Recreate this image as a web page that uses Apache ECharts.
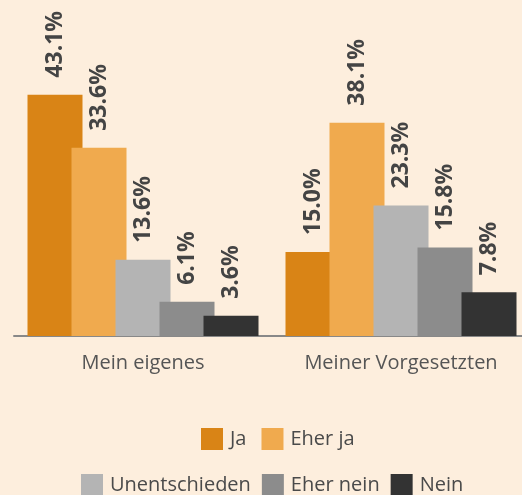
<!DOCTYPE html>
<html>
<head>
<meta charset="utf-8">
<script src="https://cdn.jsdelivr.net/npm/echarts@6/dist/echarts.min.js"></script>
<style>
  html, body { margin: 0; padding: 0; background: #fdeedd; }
  #chart { width: 522px; height: 495px; }
</style>
</head>
<body>
<div id="chart"></div>
<script>
var categories = ['Mein eigenes', 'Meiner Vorgesetzten'];
var seriesNames = ['Ja', 'Eher ja', 'Unentschieden', 'Eher nein', 'Nein'];
var jaValues = [43.1, 15.0];
var eherJaValues = [33.6, 38.1];
var unentschiedenValues = [13.6, 23.3];
var eherNeinValues = [6.1, 15.8];
var neinValues = [3.6, 7.8];

var colors = ['#d98416', '#f0aa4e', '#b4b4b4', '#8c8c8c', '#333333'];
var allValues = [jaValues, eherJaValues, unentschiedenValues, eherNeinValues, neinValues];

var myChart = echarts.init(document.getElementById('chart'));

var series = seriesNames.map(function (name, i) {
    return {
        name: name,
        type: 'bar',
        data: allValues[i],
        barWidth: 55,
        barGap: '-20%',
        itemStyle: {color: colors[i]},
        label: {
            show: true,
            position: 'top',
            rotate: 90,
            align: 'left',
            verticalAlign: 'middle',
            distance: 16,
            offset: [1, 0],
            formatter: function (p) { return p.value.toFixed(1) + '%'; },
            color: '#444',
            fontFamily: 'Open Sans',
            fontWeight: 'bold',
            fontSize: 23
        }
    };
});

var legendText = {color: '#4a4a4a', fontFamily: 'Open Sans', fontSize: 20, padding: [0, 0, 0, 2]};

myChart.setOption({
    animation: false,
    backgroundColor: '#fdeedd',
    grid: {left: 14, width: 516, top: 0, bottom: 159, outerBoundsMode: 'none'},
    xAxis: {
        type: 'category',
        data: categories,
        axisLine: {lineStyle: {color: '#888', width: 2}},
        axisTick: {show: false},
        axisLabel: {
            margin: 17,
            color: '#555',
            fontFamily: 'Open Sans',
            fontSize: 20
        }
    },
    yAxis: {
        type: 'value',
        min: 0,
        max: 60,
        show: false
    },
    legend: [
        {
            data: ['Ja', 'Eher ja'],
            left: 196,
            top: 423,
            icon: 'rect',
            itemWidth: 22,
            itemHeight: 22,
            itemGap: 15,
            selectedMode: false,
            textStyle: legendText
        },
        {
            data: ['Unentschieden', 'Eher nein', 'Nein'],
            left: 76,
            top: 469,
            icon: 'rect',
            itemWidth: 22,
            itemHeight: 22,
            itemGap: 11,
            selectedMode: false,
            textStyle: legendText
        }
    ],
    series: series
});
</script>
</body>
</html>
